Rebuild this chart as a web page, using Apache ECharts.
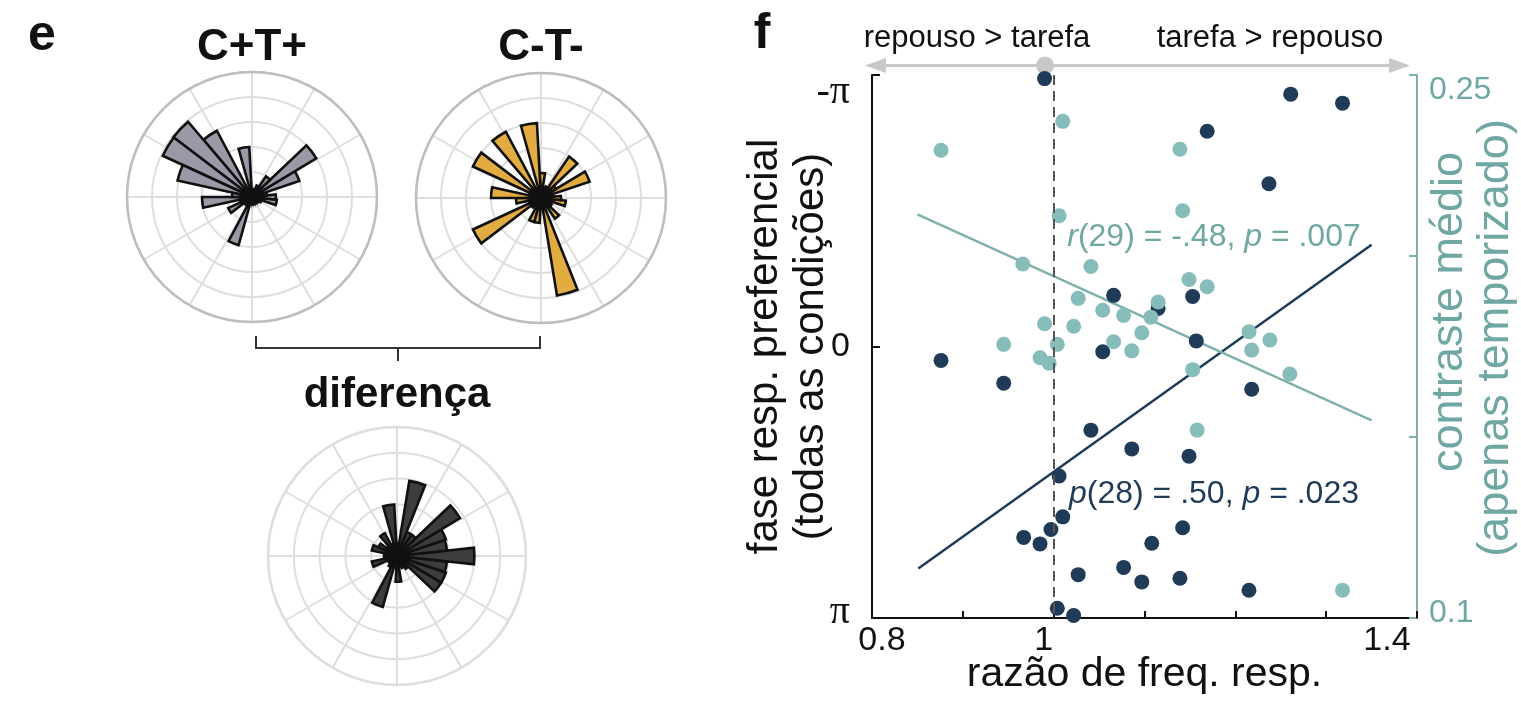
<!DOCTYPE html>
<html>
<head>
<meta charset="utf-8">
<script src="https://cdn.jsdelivr.net/npm/echarts@6.0.0/dist/echarts.min.js"></script>
<style>
  html, body { margin: 0; padding: 0; background: #fff; }
  #main { width: 1521px; height: 704px; }
</style>
</head>
<body>
<div id="main"></div>
<script>
// rose histograms: 29 bins of phase, starting at -180 deg, counterclockwise
const binCenters = Array.from({ length: 29 }, (_, k) => (-180 + (k + 0.5) * 360 / 29).toFixed(1));
const ctPlus   = [2.0, 0.5, 1.05, 0.4, 0.3, 2.0, 0.3, 0.2, 0.3, 0.2, 0.3, 0.3, 0.4, 1.0, 0.95, 0.6, 2.0, 3.0, 1.0, 0.5, 0.3, 0.3, 2.0, 0.3, 3.0, 3.95, 3.93, 3.05, 0.8];
const ctMinus  = [1.0, 0.5, 3.0, 0.5, 0.4, 1.0, 1.0, 0.4, 3.95, 0.4, 1.0, 0.5, 0.4, 1.0, 0.8, 0.5, 2.05, 0.7, 2.0, 0.5, 0.4, 1.0, 3.0, 0.4, 3.0, 0.5, 3.0, 0.5, 2.0];
const diffVals = [0.5, 1.0, 0.4, 0.3, 0.5, 2.05, 0.3, 1.0, 0.4, 0.5, 0.6, 2.0, 2.0, 1.95, 3.0, 1.95, 2.0, 2.85, 1.0, 1.0, 2.95, 0.5, 2.0, 0.5, 1.0, 0.5, 0.8, 1.0, 0.5];

// scatter: ratio vs preferred phase (left axis) and mean contrast (right axis)
const phaseX = [0.990, 1.066, 0.876, 0.945, 1.054, 1.041, 1.086, 1.006, 1.010, 0.997, 0.967, 0.985, 1.027, 1.077, 1.004, 1.022,
                1.261, 1.318, 1.169, 1.237, 1.153, 1.115, 1.157, 1.218, 1.149, 1.142, 1.108, 1.097, 1.139, 1.215];
const phaseY = [-3.10, -0.592, 0.161, 0.424, 0.061, 0.968, 1.185, 1.498, 1.971, 2.117, 2.209, 2.284, 2.640, 2.556, 3.028, 3.112,
                -2.92, -2.816, -2.49, -1.883, -0.579, -0.441, -0.065, 0.495, 1.269, 2.097, 2.276, 2.724, 2.682, 2.82];
const contrastX = [0.876, 1.010, 1.006, 0.966, 1.041, 1.027, 1.054, 1.077, 0.990, 1.022, 0.945, 1.004, 1.066, 1.086, 0.985, 0.995,
                   1.139, 1.142, 1.149, 1.169, 1.115, 1.107, 1.097, 1.215, 1.238, 1.218, 1.153, 1.260, 1.158, 1.318];
const contrastY = [0.2292, 0.2372, 0.2111, 0.1978, 0.1971, 0.1883, 0.1850, 0.1836, 0.1813, 0.1806, 0.1756, 0.1756, 0.1763, 0.1738, 0.1719, 0.1704,
                   0.2295, 0.2125, 0.1935, 0.1915, 0.1873, 0.1831, 0.1788, 0.1791, 0.1768, 0.1740, 0.1686, 0.1674, 0.1519, 0.1077];
const phaseFit = [[0.851, 2.569], [1.350, -1.177]];
const contrastFit = [[0.850, 0.2115], [1.350, 0.1546]];
const xTickLabels = { '0.8': '0.8', '1': '1', '1.4': '1.4' };

const SANS = '"Liberation Sans", Arial, Helvetica, sans-serif';
const SERIF = '"Liberation Serif", "DejaVu Serif", serif';
const navy = '#1f3b57';
const tealDot = '#86bcb9';
const tealLine = '#7fb1ad';
const tealText = '#6fa7a2';

const polar = [], angleAxis = [], radiusAxis = [], series = [];

function addRose(idx, cx, cy, r, outerColor, values, fill, edge) {
  const g = idx * 2, b = idx * 2 + 1;
  polar.push({ center: [cx, cy], radius: r }, { center: [cx, cy], radius: r });
  angleAxis.push({
    polarIndex: g, type: 'value', min: 0, max: 360, interval: 30, startAngle: 0, z: 1,
    axisLine: { show: true, lineStyle: { color: outerColor, width: 2.5 } },
    axisTick: { show: false }, axisLabel: { show: false },
    splitLine: { show: true, lineStyle: { color: '#dedede', width: 2 } }
  }, {
    polarIndex: b, type: 'category', data: binCenters, startAngle: 180, clockwise: false,
    axisLine: { show: false }, axisTick: { show: false }, axisLabel: { show: false }, splitLine: { show: false }
  });
  radiusAxis.push({
    polarIndex: g, type: 'value', min: 0, max: 5, interval: 1, z: 0,
    axisLine: { show: false }, axisTick: { show: false }, axisLabel: { show: false },
    splitLine: { show: true, lineStyle: { color: '#dedede', width: 2 } }
  }, {
    polarIndex: b, type: 'value', min: 0, max: 5,
    axisLine: { show: false }, axisTick: { show: false }, axisLabel: { show: false }, splitLine: { show: false }
  });
  series.push({
    type: 'bar', coordinateSystem: 'polar', polarIndex: b, data: values,
    barCategoryGap: '0%', silent: true, z: 3,
    itemStyle: { color: fill, borderColor: edge, borderWidth: 2.6 }
  });
}

addRose(0, 252, 197, 125, '#bdbdbd', ctPlus, '#9c98a8', '#111');
addRose(1, 541, 198, 125, '#bdbdbd', ctMinus, '#e2ac40', '#111');
addRose(2, 397, 556, 129, '#dedede', diffVals, '#3d3d3d', '#111');

const near = (a, b) => Math.abs(a - b) < 1e-6;

series.push(
  {
    type: 'line', xAxisIndex: 0, yAxisIndex: 0, data: phaseFit, symbol: 'none', silent: true, z: 2,
    lineStyle: { color: navy, width: 2.5 },
    markLine: {
      silent: true, symbol: 'none', label: { show: false },
      lineStyle: { color: '#555', width: 2, type: [10, 6] },
      data: [{ xAxis: 1.0 }]
    }
  },
  {
    type: 'line', xAxisIndex: 0, yAxisIndex: 1, data: contrastFit, symbol: 'none', silent: true, z: 2,
    lineStyle: { color: tealLine, width: 2.5 }
  },
  {
    type: 'scatter', xAxisIndex: 0, yAxisIndex: 0, symbolSize: 15, silent: true, z: 3,
    data: phaseX.map((x, i) => [x, phaseY[i]]),
    itemStyle: { color: navy, opacity: 1 }
  },
  {
    type: 'scatter', xAxisIndex: 0, yAxisIndex: 1, symbolSize: 15, silent: true, z: 4,
    data: contrastX.map((x, i) => [x, contrastY[i]]),
    itemStyle: { color: tealDot, opacity: 1 }
  }
);

const option = {
  animation: false,
  backgroundColor: '#fff',
  polar, angleAxis, radiusAxis,
  grid: [{ left: 872, top: 75, width: 545, height: 543, containLabel: false, outerBoundsMode: 'none' }],
  xAxis: [{
    type: 'value', min: 0.8, max: 1.4, interval: 0.1,
    axisLine: { onZero: false, lineStyle: { color: '#111', width: 2 } },
    axisTick: { inside: true, length: 7, lineStyle: { color: '#111', width: 2 } },
    splitLine: { show: false },
    axisLabel: {
      margin: 6, fontSize: 34, fontFamily: SANS, color: '#111',
      formatter: v => {
        if (near(v, 0.8)) return '{a|' + xTickLabels['0.8'] + '}';
        if (near(v, 1)) return '{b|' + xTickLabels['1'] + '}';
        if (near(v, 1.4)) return '{c|' + xTickLabels['1.4'] + '}';
        return '';
      },
      rich: {
        a: { fontSize: 34, fontFamily: SANS, color: '#111', padding: [0, 0, 0, 20] },
        b: { fontSize: 34, fontFamily: SANS, color: '#111', padding: [0, 20, 0, 0] },
        c: { fontSize: 34, fontFamily: SANS, color: '#111', padding: [0, 60, 0, 0] }
      }
    },
    name: 'razão de freq. resp.', nameLocation: 'middle', nameGap: 36, nameMoveOverlap: false,
    nameTextStyle: { fontSize: 41, fontFamily: SANS, color: '#111' }
  }],
  yAxis: [{
    type: 'value', min: -Math.PI, max: Math.PI, interval: Math.PI, inverse: true, position: 'left',
    axisLine: { onZero: false, lineStyle: { color: '#111', width: 2 } },
    axisTick: { inside: true, length: 8, lineStyle: { color: '#111', width: 2 } },
    splitLine: { show: false },
    axisLabel: {
      margin: 22, fontSize: 34, fontFamily: SANS, color: '#111',
      formatter: v => {
        if (v < -1) return '{t|-π}';
        if (v > 1) return '{b|π}';
        return '{z|0}';
      },
      rich: {
        t: { fontSize: 40, fontFamily: SERIF, color: '#111', padding: [34, 0, 0, 0] },
        b: { fontSize: 40, fontFamily: SERIF, color: '#111', padding: [0, 0, 12, 0] },
        z: { fontSize: 34, fontFamily: SANS, color: '#111' }
      }
    },
    name: 'fase resp. preferencial\n(todas as condições)', nameLocation: 'middle', nameRotate: 90, nameGap: 38,
    nameMoveOverlap: false,
    nameTextStyle: { fontSize: 42, lineHeight: 46, fontFamily: SANS, color: '#111' }
  }, {
    type: 'value', min: 0.1, max: 0.25, interval: 0.05, position: 'right',
    axisLine: { onZero: false, lineStyle: { color: tealLine, width: 2 } },
    axisTick: { inside: true, length: 8, lineStyle: { color: tealLine, width: 2 } },
    splitLine: { show: false },
    axisLabel: {
      margin: 12, fontSize: 32, fontFamily: SANS, color: tealText,
      formatter: v => {
        if (near(v, 0.25)) return '{t|0.25}';
        if (near(v, 0.1)) return '{b|0.1}';
        return '';
      },
      rich: {
        t: { fontSize: 32, fontFamily: SANS, color: tealText, padding: [30, 0, 0, 0] },
        b: { fontSize: 32, fontFamily: SANS, color: tealText, padding: [0, 0, 10, 0] }
      }
    }
  }],
  series,
  graphic: [
    // panel letters and rose titles
    { type: 'text', x: 42, y: 36, style: { text: 'e', font: 'bold 50px ' + SANS, fill: '#111', align: 'center', verticalAlign: 'middle' } },
    { type: 'text', x: 762, y: 34, style: { text: 'f', font: 'bold 50px ' + SANS, fill: '#111', align: 'center', verticalAlign: 'middle' } },
    { type: 'text', x: 252, y: 48, style: { text: 'C+T+', font: 'bold 44px ' + SANS, fill: '#111', align: 'center', verticalAlign: 'middle' } },
    { type: 'text', x: 541, y: 48, style: { text: 'C-T-', font: 'bold 44px ' + SANS, fill: '#111', align: 'center', verticalAlign: 'middle' } },
    { type: 'text', x: 397, y: 395, style: { text: 'diferença', font: 'bold 42px ' + SANS, fill: '#111', align: 'center', verticalAlign: 'middle' } },
    // bracket joining the two roses
    { type: 'polyline', shape: { points: [[256, 336], [256, 348], [540, 348], [540, 336]] }, style: { stroke: '#333', lineWidth: 2, fill: null } },
    { type: 'line', shape: { x1: 398, y1: 348, x2: 398, y2: 361 }, style: { stroke: '#333', lineWidth: 2 } },
    // right axis title, two lines ending at the same height
    { type: 'text', x: 1450, y: 312, rotation: Math.PI / 2, style: { text: 'contraste médio', font: '45px ' + SANS, fill: tealText, align: 'center', verticalAlign: 'middle' } },
    { type: 'text', x: 1496, y: 338, rotation: Math.PI / 2, style: { text: '(apenas temporizado)', font: '45px ' + SANS, fill: tealText, align: 'center', verticalAlign: 'middle' } },
    // direction arrow above the scatter
    { type: 'line', shape: { x1: 880, y1: 65.5, x2: 1395, y2: 65.5 }, style: { stroke: '#c8c8c8', lineWidth: 3 } },
    { type: 'polygon', shape: { points: [[865, 65.5], [886, 58], [886, 73]] }, style: { fill: '#c8c8c8' } },
    { type: 'polygon', shape: { points: [[1410, 65.5], [1389, 58], [1389, 73]] }, style: { fill: '#c8c8c8' } },
    { type: 'circle', shape: { cx: 1045, cy: 65.5, r: 9 }, style: { fill: '#c8c8c8' } },
    { type: 'text', x: 977, y: 38, style: { text: 'repouso > tarefa', font: '31px ' + SANS, fill: '#111', align: 'center', verticalAlign: 'middle' } },
    { type: 'text', x: 1270, y: 38, style: { text: 'tarefa > repouso', font: '31px ' + SANS, fill: '#111', align: 'center', verticalAlign: 'middle' } },
    // correlation annotations
    {
      type: 'text', x: 1214, y: 237, z: 10,
      style: {
        text: '{i|r}(29) = -.48, {i|p} = .007', font: '32px ' + SANS, fill: tealText, align: 'center', verticalAlign: 'middle',
        rich: { i: { fontStyle: 'italic', fontSize: 32, fontFamily: SANS, fill: tealText, color: tealText } }
      }
    },
    {
      type: 'text', x: 1214, y: 494, z: 10,
      style: {
        text: '{i|p}(28) = .50, {i|p} = .023', font: '32px ' + SANS, fill: navy, align: 'center', verticalAlign: 'middle',
        rich: { i: { fontStyle: 'italic', fontSize: 32, fontFamily: SANS, fill: navy, color: navy } }
      }
    }
  ]
};

echarts.init(document.getElementById('main')).setOption(option);
</script>
</body>
</html>
